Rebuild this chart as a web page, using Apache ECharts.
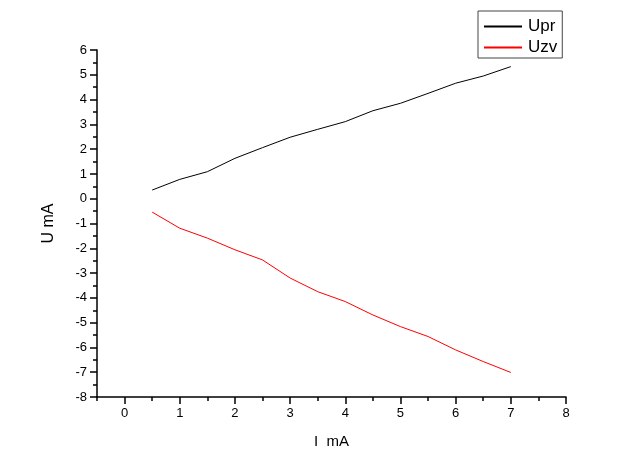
<!DOCTYPE html>
<html>
<head>
<meta charset="utf-8">
<script src="https://cdn.jsdelivr.net/npm/echarts@6/dist/echarts.min.js"></script>
<style>html,body{margin:0;padding:0;background:#fff;}#c{width:617px;height:458px;}</style>
</head>
<body>
<div id="c"></div>
<script>
const currents = [0.5, 1, 1.5, 2, 2.5, 3, 3.5, 4, 4.5, 5, 5.5, 6, 6.5, 7];
const upr = [0.35, 0.78, 1.09, 1.63, 2.06, 2.48, 2.8, 3.11, 3.55, 3.85, 4.25, 4.66, 4.95, 5.33];
const uzv = [-0.54, -1.19, -1.59, -2.06, -2.47, -3.2, -3.75, -4.15, -4.69, -5.16, -5.56, -6.1, -6.57, -7.01];
const seriesNames = ['Upr', 'Uzv'];
const seriesColors = ['#000000', '#ff0000'];
const xName = 'I  mA';
const yName = 'U mA';
const xMin = -0.5, xMax = 8;

const chart = echarts.init(document.getElementById('c'), null, {renderer: 'canvas'});
const font = 'Liberation Sans, Arial, sans-serif';
const gLeft = 97, gRight = 51, gTop = 50, gBottom = 61;
const gWidth = 617 - gLeft - gRight;
const zeroLeft = gLeft + gWidth * (0 - xMin) / (xMax - xMin);
const tickLine = {color: '#000', width: 1.5};
chart.setOption({
  animation: false,
  backgroundColor: '#ffffff',
  grid: [
    {left: gLeft, right: gRight, top: gTop, bottom: gBottom, containLabel: false},
    {left: zeroLeft, right: gRight, top: gTop, bottom: gBottom, containLabel: false}
  ],
  legend: {
    left: 478, top: 11,
    orient: 'vertical',
    borderColor: '#444', borderWidth: 1,
    padding: [7, 5, 2, 5],
    itemGap: 4,
    itemWidth: 38, itemHeight: 17,
    itemStyle: {opacity: 0},
    textStyle: {fontFamily: font, fontSize: 17, color: '#000', padding: [0, 0, 0, 1]},
    data: seriesNames
  },
  xAxis: [
    {
      gridIndex: 0, type: 'value', min: xMin, max: xMax, interval: 0.5,
      name: xName, nameLocation: 'middle', nameGap: 37,
      nameTextStyle: {fontFamily: font, fontSize: 15, color: '#000'},
      axisLine: {show: true, onZero: false, lineStyle: tickLine},
      axisTick: {show: true, inside: false, length: 4, lineStyle: tickLine},
      axisLabel: {show: false},
      splitLine: {show: false}
    },
    {
      gridIndex: 1, type: 'value', min: 0, max: xMax, interval: 1,
      axisLine: {show: false, onZero: false},
      axisTick: {show: true, inside: false, length: 7, lineStyle: tickLine},
      axisLabel: {fontFamily: font, fontSize: 13, color: '#000', margin: 10},
      splitLine: {show: false}
    }
  ],
  yAxis: [
    {
      gridIndex: 0, type: 'value', min: -8, max: 6, interval: 1,
      name: yName, nameLocation: 'middle', nameGap: 40,
      nameTextStyle: {fontFamily: font, fontSize: 16, color: '#000'},
      axisLine: {show: true, onZero: false, lineStyle: tickLine},
      axisTick: {show: true, inside: false, length: 7, lineStyle: tickLine},
      minorTick: {show: true, splitNumber: 2, length: 4, lineStyle: tickLine},
      axisLabel: {fontFamily: font, fontSize: 13, color: '#000', margin: 10},
      splitLine: {show: false}
    },
    {
      gridIndex: 1, type: 'value', min: -8, max: 6, show: false
    }
  ],
  series: [
    {name: seriesNames[0], type: 'line', symbol: 'none', showSymbol: false,
     xAxisIndex: 0, yAxisIndex: 0,
     lineStyle: {color: seriesColors[0], width: 1}, itemStyle: {color: seriesColors[0]},
     data: currents.map((x, i) => [x, upr[i]])},
    {name: seriesNames[1], type: 'line', symbol: 'none', showSymbol: false,
     xAxisIndex: 0, yAxisIndex: 0,
     lineStyle: {color: seriesColors[1], width: 1}, itemStyle: {color: seriesColors[1]},
     data: currents.map((x, i) => [x, uzv[i]])}
  ]
});
</script>
</body>
</html>
